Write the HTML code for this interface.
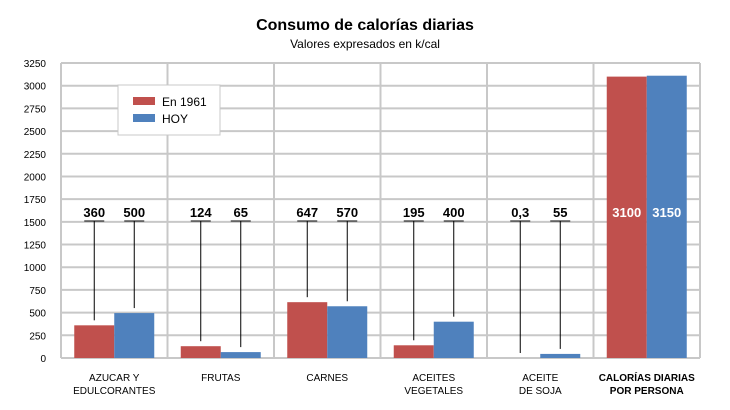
<!DOCTYPE html>
<html><head><meta charset="utf-8"><style>
body{margin:0;background:#fff;font-family:"Liberation Sans",Arial,sans-serif;}
svg{display:block}
</style></head><body>
<svg id="chart" width="730" height="410">
<text x="365" y="30" text-anchor="middle" font-size="16" font-weight="bold">Consumo de calorías diarias</text>
<text x="365" y="48" text-anchor="middle" font-size="12">Valores expresados en k/cal</text>
<g id="grid"></g><g id="bars"></g><g id="labels"></g>
<g>
<rect x="118" y="85" width="102" height="50" fill="#fff" stroke="#c8c8c8" stroke-width="1"/>
<rect x="133" y="97" width="22" height="8" fill="#c0504d"/>
<text x="162" y="106" font-size="12">En 1961</text>
<rect x="133" y="114" width="22" height="8" fill="#4f81bd"/>
<text x="162" y="123" font-size="12">HOY</text>
</g>
</svg>
<script>
const categories=[["AZUCAR Y","EDULCORANTES"],["FRUTAS"],["CARNES"],["ACEITES","VEGETALES"],["ACEITE","DE SOJA"],["CALORÍAS DIARIAS","POR PERSONA"]];
const bar1961=[360,130,615,140,0,3100];
const barHoy=[495,65,570,400,45,3110];
const label1961=["360","124","647","195","0,3","3100"];
const labelHoy=["500","65","570","400","55","3150"];
const yTicks=[0,250,500,750,1000,1250,1500,1750,2000,2250,2500,2750,3000,3250];
const NS="http://www.w3.org/2000/svg";
const L=61,R=700,T=63,B=358,YMAX=3250;
const y=v=>B-(v/YMAX)*(B-T);
const colW=(R-L)/categories.length;
const x=i=>L+i*colW;
function mk(tag,attrs,parent,text){const e=document.createElementNS(NS,tag);for(const k in attrs)e.setAttribute(k,attrs[k]);if(text!=null)e.textContent=text;parent.appendChild(e);return e;}
const grid=document.getElementById('grid'),bars=document.getElementById('bars'),labels=document.getElementById('labels');
yTicks.forEach(t=>{
 const l=mk('line',{x1:L,x2:R,y1:y(t),y2:y(t),stroke:'#c8c8c8','stroke-width':2},grid);
 
 
 const tx=mk('text',{x:46,y:y(t)+4,'text-anchor':'end','font-size':10},grid,String(t));
 
 
});
for(let i=0;i<=categories.length;i++){
 const l=mk('line',{x1:x(i),x2:x(i),y1:T,y2:B,stroke:'#c8c8c8','stroke-width':2},grid);
 
 
}
const bw=40;
categories.forEach((c,i)=>{
 const cx=x(i)+colW/2;
 const last=i===categories.length-1;
 [[bar1961,label1961,'#c0504d',cx-bw,'1961'],[barHoy,labelHoy,'#4f81bd',cx,'hoy']].forEach(([vals,labs,col,bx,nm])=>{
  const v=vals[i];
  const r=mk('rect',{x:bx,y:y(v),width:bw,height:B-y(v),fill:col},bars);
  
  
  const mx=bx+bw/2;
  const t=mk('text',{x:mx,y:217,'text-anchor':'middle','font-size':13,'font-weight':'bold',fill:last?'#fff':'#000'},labels,labs[i]);
  
  
  if(!last){
   const u=mk('line',{x1:mx-10,x2:mx+10,y1:221,y2:221,stroke:'#000','stroke-width':1},labels);
   
   
   const ld=mk('line',{x1:mx,x2:mx,y1:221,y2:Math.min(y(v)-5,B-5),stroke:'#000','stroke-width':1},labels);
   
   
  }
 });
 c.forEach((ln,j)=>{
  const t=mk('text',{x:cx,y:381+j*13,'text-anchor':'middle','font-size':10,'font-weight':last?'bold':'normal'},labels,ln);
  
  
 });
});
</script>
</body></html>
